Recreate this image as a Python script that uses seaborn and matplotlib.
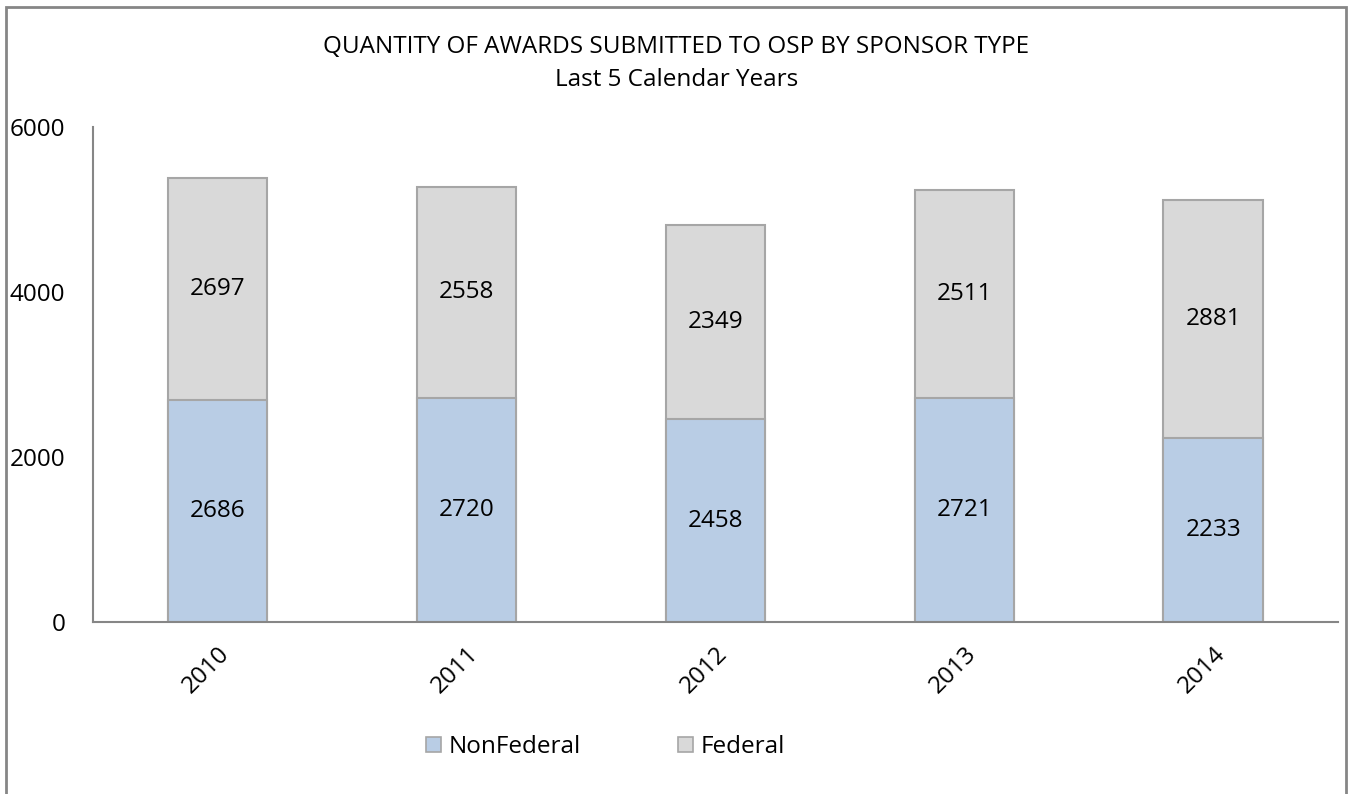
import pandas as pd
import seaborn as sns
import matplotlib.pyplot as plt
from matplotlib.patches import Rectangle

# Awards submitted per year, split by sponsor type
years = ["2010", "2011", "2012", "2013", "2014"]
nonfederal = [2686, 2720, 2458, 2721, 2233]
federal = [2697, 2558, 2349, 2511, 2881]

df = pd.DataFrame({"year": years, "NonFederal": nonfederal, "Federal": federal})
df["total"] = df["NonFederal"] + df["Federal"]

sns.set_style("white")
plt.rcParams["font.family"] = ["Open Sans", "DejaVu Sans"]
plt.rcParams["text.color"] = "black"
plt.rcParams["xtick.color"] = "black"
plt.rcParams["ytick.color"] = "black"

blue = "#B9CDE5"
grey = "#D9D9D9"
edge = "#A6A6A6"
axis_col = "#868686"
fs = 17.5

fig = plt.figure(figsize=(13.54, 7.94), dpi=100)
ax = fig.add_axes([0.0687, 0.2166, 0.9193, 0.6234])

# stacked bars: draw total (federal part shows on top), then nonfederal over it
sns.barplot(data=df, x="year", y="total", color=grey, width=0.4,
            edgecolor=edge, linewidth=1.5, saturation=1, ax=ax)
sns.barplot(data=df, x="year", y="NonFederal", color=blue, width=0.4,
            edgecolor=edge, linewidth=1.5, saturation=1, ax=ax)

# value labels in the middle of each segment
for i, row in df.iterrows():
    ax.text(i, row["NonFederal"] / 2, str(row["NonFederal"]), ha="center", va="center", fontsize=fs)
    ax.text(i, row["NonFederal"] + row["Federal"] / 2, str(row["Federal"]), ha="center", va="center", fontsize=fs)

ax.set_ylim(0, 6000)
ax.set_xlim(-0.5, 4.5)
ax.set_yticks([0, 2000, 4000, 6000])
ax.set_xlabel("")
ax.set_ylabel("")
ax.tick_params(axis="y", labelsize=fs, length=0, pad=20)
ax.tick_params(axis="x", labelsize=fs, length=0, pad=14)
plt.setp(ax.get_xticklabels(), rotation=45, ha="right", rotation_mode="anchor")

sns.despine(ax=ax, top=True, right=True)
for s in ["left", "bottom"]:
    ax.spines[s].set_color(axis_col)
    ax.spines[s].set_linewidth(1.5)

fig.text(0.4995, 0.941, "QUANTITY OF AWARDS SUBMITTED TO OSP BY SPONSOR TYPE",
         ha="center", va="center", fontsize=fs)
fig.text(0.4995, 0.899, "Last 5 Calendar Years", ha="center", va="center", fontsize=fs)

handles = [Rectangle((0, 0), 1, 1, facecolor=blue, edgecolor=edge, linewidth=1.2),
           Rectangle((0, 0), 1, 1, facecolor=grey, edgecolor=edge, linewidth=1.2)]
fig.legend(handles, ["NonFederal", "Federal"], loc="center", bbox_to_anchor=(0.447, 0.059),
           ncol=2, frameon=False, fontsize=fs, handlelength=0.62, handleheight=0.62,
           handletextpad=0.3, columnspacing=4.0)

# chart border
fig.patches.append(Rectangle((0.0044, -0.01), 0.9896, 1.001, transform=fig.transFigure,
                             fill=False, edgecolor=axis_col, linewidth=2))

plt.savefig("out.png", dpi=100)
